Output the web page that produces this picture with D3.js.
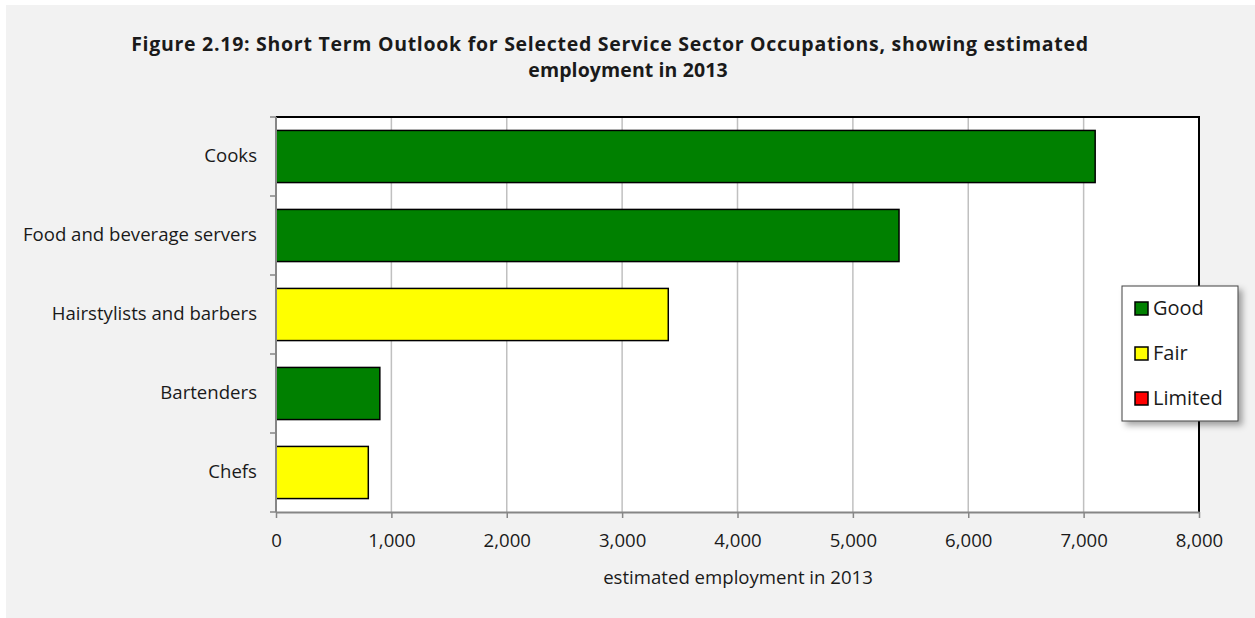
<!DOCTYPE html>
<html>
<head>
<meta charset="utf-8">
<script src="https://d3js.org/d3.v7.min.js"></script>
<style>
  html, body { margin: 0; padding: 0; background: #ffffff; }
  svg { display: block; }
  text { font-family: "Open Sans", Lato, sans-serif; fill: #1a1a1a; }
</style>
</head>
<body>
<script>
// Occupations, top to bottom, with 2013 employment estimates and short-term outlook
const occupations = ["Cooks", "Food and beverage servers", "Hairstylists and barbers", "Bartenders", "Chefs"];
const employment = [7100, 5400, 3400, 900, 800];
const outlook = ["Good", "Good", "Fair", "Good", "Fair"];

const outlookLevels = ["Good", "Fair", "Limited"];
const outlookColors = ["#008000", "#ffff00", "#ff0000"];

const xTicks = [0, 1000, 2000, 3000, 4000, 5000, 6000, 7000, 8000];

const titleLines = [
  "Figure 2.19: Short Term Outlook for Selected Service Sector Occupations, showing estimated",
  "employment in 2013"
];
const xAxisTitle = "estimated employment in 2013";

const W = 1255, H = 618;
const plot = { left: 276, right: 1199, top: 117, bottom: 512 };
const FONT = "'Open Sans', Lato, sans-serif";
const LABEL_SIZE = 18.6;

const svg = d3.select("body").append("svg")
  .attr("width", W).attr("height", H);

// chart background
svg.append("rect").attr("x", 6).attr("y", 5).attr("width", W - 6).attr("height", H - 5)
  .attr("fill", "#f2f2f2");

// title (two centred lines)
const titleX = [610, 628];
const titleSpacing = [0.72, 0.1];
svg.append("g").selectAll("text").data(titleLines).join("text")
  .attr("x", (d, i) => titleX[i]).attr("y", (d, i) => 51 + i * 26)
  .attr("text-anchor", "middle")
  .attr("font-size", 19.5).attr("font-weight", "bold")
  .attr("letter-spacing", (d, i) => titleSpacing[i])
  .text(d => d);

const x = d3.scaleLinear().domain([0, 8000]).range([plot.left, plot.right]);
const y = d3.scaleBand().domain(occupations).range([plot.top, plot.bottom]).paddingInner(0.34).paddingOuter(0.17);
const color = d3.scaleOrdinal().domain(outlookLevels).range(outlookColors);

// plot area
svg.append("rect")
  .attr("x", plot.left).attr("y", plot.top)
  .attr("width", plot.right - plot.left).attr("height", plot.bottom - plot.top)
  .attr("fill", "#ffffff");

// vertical gridlines
svg.append("g").selectAll("line").data(xTicks.slice(1, -1)).join("line")
  .attr("x1", d => x(d)).attr("x2", d => x(d))
  .attr("y1", plot.top).attr("y2", plot.bottom)
  .attr("stroke", "#c0c0c0").attr("stroke-width", 1.5);

// plot frame: top and right edges
svg.append("path")
  .attr("d", `M${plot.left},${plot.top}H${plot.right}V${plot.bottom}`)
  .attr("fill", "none").attr("stroke", "#000").attr("stroke-width", 2);

// bars
const rows = occupations.map((o, i) => ({ name: o, value: employment[i], outlook: outlook[i] }));
svg.append("g").selectAll("rect").data(rows).join("rect")
  .attr("x", x(0))
  .attr("y", d => y(d.name))
  .attr("width", d => x(d.value) - x(0))
  .attr("height", y.bandwidth())
  .attr("fill", d => color(d.outlook))
  .attr("stroke", "#000").attr("stroke-width", 1.5);

// x axis
const xAxis = svg.append("g")
  .attr("transform", `translate(0,${plot.bottom})`)
  .call(d3.axisBottom(x).tickValues(xTicks).tickFormat(d3.format(",")).tickSizeInner(6).tickSizeOuter(0).tickPadding(16));
xAxis.select(".domain").attr("stroke", "#868686").attr("stroke-width", 2);
xAxis.selectAll(".tick line").attr("stroke", "#868686").attr("stroke-width", 1.5);
xAxis.selectAll(".tick text").attr("font-size", LABEL_SIZE).attr("fill", "#1a1a1a")
  .style("font-family", FONT);

// y axis
const yStep = y.step();
const yAxis = svg.append("g")
  .attr("transform", `translate(${plot.left},0)`)
  .call(d3.axisLeft(y).tickSize(0).tickPadding(19));
yAxis.select(".domain").attr("stroke", "#868686").attr("stroke-width", 2)
  .attr("d", `M0,${plot.top}V${plot.bottom}`);
yAxis.selectAll(".tick text").attr("font-size", LABEL_SIZE).attr("fill", "#1a1a1a")
  .style("font-family", FONT);
// category boundary ticks
yAxis.append("g").selectAll("line").data(d3.range(occupations.length + 1)).join("line")
  .attr("x1", -6).attr("x2", 0)
  .attr("y1", i => plot.top + i * yStep).attr("y2", i => plot.top + i * yStep)
  .attr("stroke", "#868686").attr("stroke-width", 1.5);

// x axis title
svg.append("text")
  .attr("x", 738).attr("y", 584)
  .attr("text-anchor", "middle").attr("font-size", LABEL_SIZE)
  .text(xAxisTitle);

// legend
const legend = { x: 1122, y: 286, w: 116, h: 135 };
const defs = svg.append("defs");
const f = defs.append("filter").attr("id", "shadow").attr("x", "-20%").attr("y", "-20%").attr("width", "150%").attr("height", "150%");
f.append("feDropShadow").attr("dx", 4).attr("dy", 4).attr("stdDeviation", 3).attr("flood-color", "#000").attr("flood-opacity", 0.35);

svg.append("rect")
  .attr("x", legend.x).attr("y", legend.y).attr("width", legend.w).attr("height", legend.h)
  .attr("fill", "#ffffff").attr("stroke", "#404040").attr("stroke-width", 1)
  .attr("filter", "url(#shadow)");

const items = svg.append("g").selectAll("g").data(outlookLevels).join("g")
  .attr("transform", (d, i) => `translate(${legend.x + 13},${legend.y + 22 + i * 45})`);
items.append("rect")
  .attr("x", 0).attr("y", -6).attr("width", 13).attr("height", 13)
  .attr("fill", d => color(d)).attr("stroke", "#000").attr("stroke-width", 1.5);
items.append("text")
  .attr("x", 18).attr("y", 0).attr("dy", "0.35em")
  .attr("font-size", 20)
  .text(d => d);
</script>
</body>
</html>
